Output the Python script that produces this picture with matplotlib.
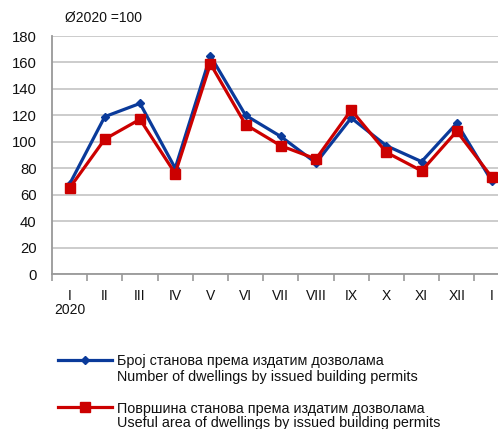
import matplotlib
matplotlib.use("Agg")
import matplotlib.pyplot as plt
from matplotlib.lines import Line2D

plt.rcParams['font.family'] = ['Liberation Sans', 'DejaVu Sans']

months = ["I", "II", "III", "IV", "V", "VI", "VII", "VIII", "IX", "X", "XI", "XII", "I"]
year_label = "2020"
dwellings = [68, 119, 129, 80, 165, 120, 104, 84, 118, 97, 85, 114, 70]
area = [65, 102, 117, 76, 159, 113, 97, 87, 124, 92, 78, 108, 73]
label_dw = ["Број станова према издатим дозволама",
            "Number of dwellings by issued building permits"]
label_ar = ["Површина станова према издатим дозволама",
            "Useful area of dwellings by issued building permits"]
title = "Ø2020 =100"

blue = "#0a3a9a"
red = "#cc0000"

fig = plt.figure(figsize=(4.98, 4.29), dpi=100)
ax = fig.add_axes([52/498, 1-274/429, 457.6/498, 238/429])

x = list(range(len(months)))
ax.plot(x, dwellings, color=blue, lw=2.3, marker="D", ms=4.5, mfc=blue, mec=blue, zorder=3)
ax.plot(x, area, color=red, lw=2.3, marker="s", ms=7, mfc=red, mec=red, zorder=4)

ax.set_ylim(0, 180)
ax.set_xlim(-0.5, len(months) - 0.5)
ax.set_yticks(range(0, 181, 20))
ax.grid(axis="y", color="#c8c8c8", lw=1.3)
ax.set_axisbelow(True)
for s in ["top", "right"]:
    ax.spines[s].set_visible(False)
for s in ["left", "bottom"]:
    ax.spines[s].set_color("#999999")
    ax.spines[s].set_linewidth(1.3)

ax.tick_params(axis="y", length=0, pad=11, labelsize=10.7, colors="#111111")
ax.set_xticks(x)
ax.set_xticklabels(months)
ax.set_xticks([i - 0.5 for i in range(len(months) + 1)], minor=True)
ax.tick_params(axis="x", which="major", length=0, pad=11, labelsize=10, colors="#111111")
ax.tick_params(axis="x", which="minor", length=5, width=1.2, color="#999999")

ax.text(0, -27, year_label, transform=ax.transData,
        ha="center", va="center", fontsize=10, color="#111111", clip_on=False)

fig.text(65/498, 1-18/429, title, fontsize=10, va="center", ha="left", color="#111111")

# legend
def fy(py):
    return 1 - py / 429

fig.add_artist(Line2D([58/498, 112/498], [fy(360), fy(360)], color=blue, lw=2.3))
fig.add_artist(Line2D([85/498], [fy(360)], color=blue, marker="D", ms=4.5, lw=0))
fig.text(117/498, fy(365.5), label_dw[0], fontsize=10.4, va="baseline", ha="left", color="#111111")
fig.text(117/498, fy(381.5), label_dw[1], fontsize=10.4, va="baseline", ha="left", color="#111111")
fig.add_artist(Line2D([58/498, 112/498], [fy(407), fy(407)], color=red, lw=2.3))
fig.add_artist(Line2D([85/498], [fy(407)], color=red, marker="s", ms=7, lw=0))
fig.text(117/498, fy(412.5), label_ar[0], fontsize=10.4, va="baseline", ha="left", color="#111111")
fig.text(117/498, fy(427.5), label_ar[1], fontsize=10.4, va="baseline", ha="left", color="#111111")

fig.savefig("out.png", dpi=100)
